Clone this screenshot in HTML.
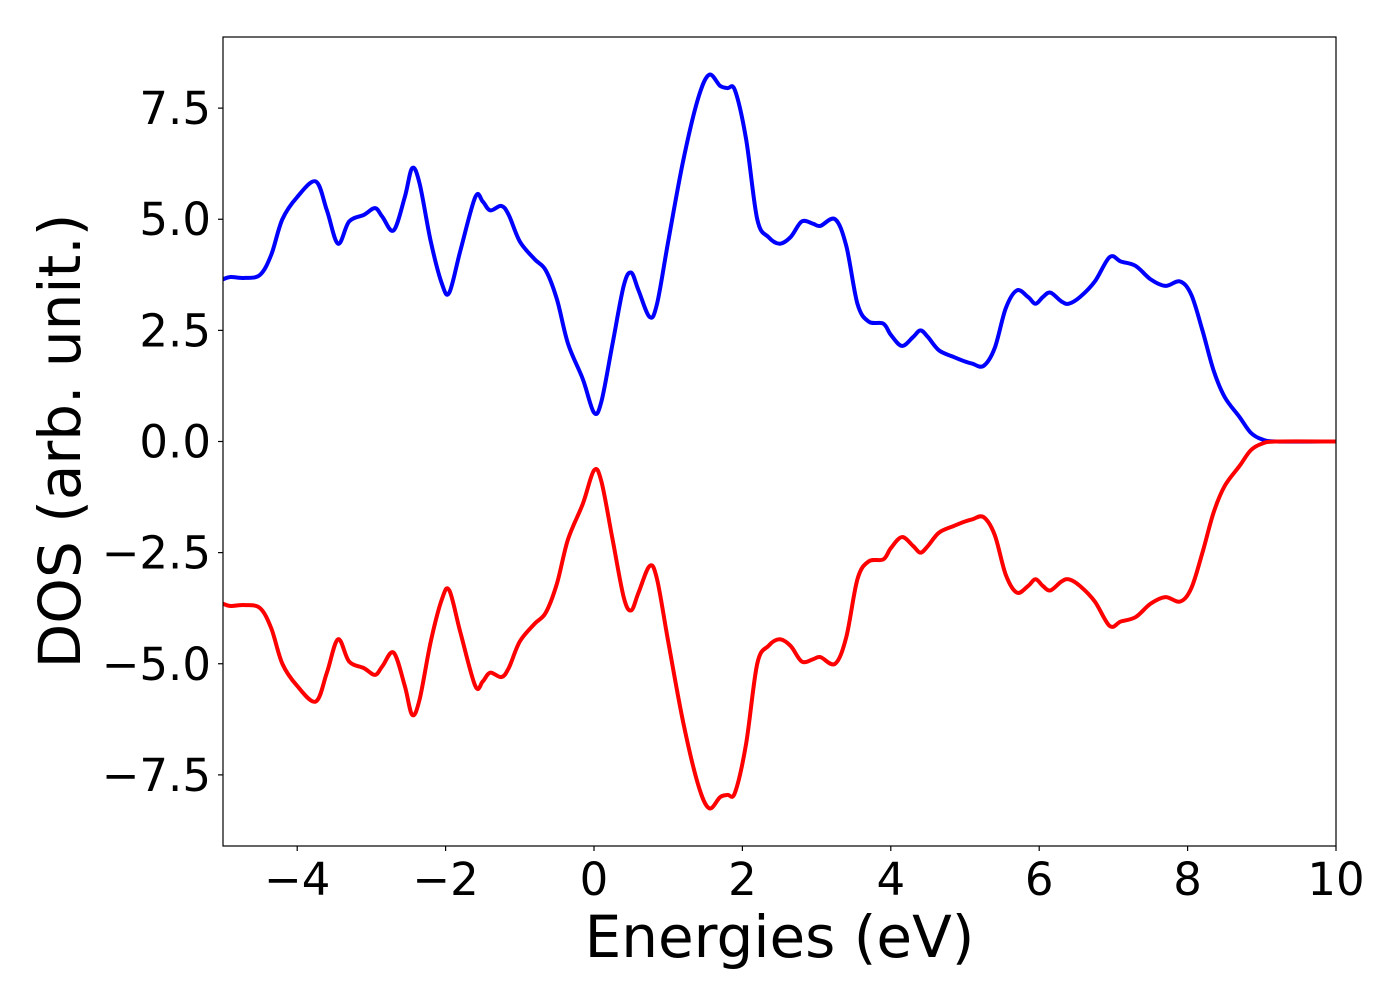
<!DOCTYPE html>
<html><head><meta charset="utf-8"><style>
body{margin:0;background:#fff;}
svg text{font-family:"DejaVu Sans","Liberation Sans",sans-serif;fill:#000;}
</style></head><body>
<svg id="chart" width="1400" height="1000" xmlns="http://www.w3.org/2000/svg">
<g id="plot"></g>
</svg>
<script>
const energies=[-5,-4.9,-4.7,-4.5,-4.35,-4.2,-4.0,-3.75,-3.6,-3.45,-3.3,-3.1,-2.95,-2.85,-2.7,-2.55,-2.45,-2.35,-2.2,-2.05,-1.95,-1.8,-1.6,-1.5,-1.4,-1.25,-1.15,-1.0,-0.8,-0.65,-0.5,-0.35,-0.15,0.0,0.1,0.25,0.4,0.5,0.6,0.75,0.85,1.0,1.2,1.4,1.55,1.7,1.8,1.9,2.05,2.2,2.35,2.5,2.65,2.8,2.95,3.05,3.25,3.4,3.55,3.7,3.9,4.0,4.15,4.3,4.4,4.5,4.65,4.85,5.0,5.1,5.25,5.4,5.55,5.7,5.85,5.95,6.05,6.15,6.3,6.4,6.55,6.75,6.95,7.1,7.3,7.5,7.7,7.9,8.05,8.2,8.35,8.5,8.7,8.85,9.0,9.2,10];
const spinUp=[3.65,3.7,3.68,3.75,4.2,5.0,5.5,5.85,5.2,4.45,4.95,5.1,5.25,5.05,4.75,5.5,6.15,5.8,4.5,3.55,3.35,4.3,5.5,5.4,5.2,5.3,5.1,4.5,4.1,3.85,3.2,2.2,1.4,0.65,0.9,2.2,3.5,3.8,3.4,2.8,3.1,4.5,6.3,7.7,8.25,8.0,7.95,7.9,6.8,5.0,4.6,4.45,4.6,4.95,4.9,4.85,5.0,4.4,3.1,2.7,2.65,2.4,2.15,2.35,2.5,2.35,2.05,1.9,1.8,1.75,1.7,2.1,3.0,3.4,3.25,3.1,3.25,3.35,3.15,3.1,3.25,3.6,4.15,4.05,3.95,3.65,3.5,3.6,3.3,2.5,1.6,1.0,0.55,0.2,0.05,0,0];
const spinDown=spinUp.map(v=>-v);
const xTicks=[-4,-2,0,2,4,6,8,10];
const yTicks=[-7.5,-5,-2.5,0,2.5,5,7.5];
const xTickLabels=['\u22124','\u22122','0','2','4','6','8','10'];
const yTickLabels=['\u22127.5','\u22125.0','\u22122.5','0.0','2.5','5.0','7.5'];
const L=223,R=1336,T=37,B=846;
const xMin=-5,xMax=10,yMin=-9.1,yMax=9.1;
const sx=v=>L+(v-xMin)/(xMax-xMin)*(R-L);
const sy=v=>B-(v-yMin)/(yMax-yMin)*(B-T);
const NS='http://www.w3.org/2000/svg';
const svg=document.getElementById('chart');
function mk(tag,attrs,parent){const e=document.createElementNS(NS,tag);for(const k in attrs)e.setAttribute(k,attrs[k]);(parent||svg).appendChild(e);return e;}
function smoothPath(xs,ys){const p=xs.map((x,i)=>[sx(x),sy(ys[i])]);let d='M'+p[0][0]+','+p[0][1];
for(let i=0;i<p.length-1;i++){const p0=p[Math.max(0,i-1)],p1=p[i],p2=p[i+1],p3=p[Math.min(p.length-1,i+2)];
const c1=[p1[0]+(p2[0]-p0[0])/6,p1[1]+(p2[1]-p0[1])/6],c2=[p2[0]-(p3[0]-p1[0])/6,p2[1]-(p3[1]-p1[1])/6];
d+=' C'+c1[0]+','+c1[1]+' '+c2[0]+','+c2[1]+' '+p2[0]+','+p2[1];}return d;}
const clip=mk('clipPath',{id:'cp'});mk('rect',{x:L,y:T,width:R-L,height:B-T},clip);
const up=mk('path',{d:smoothPath(energies,spinUp),fill:'none',stroke:'#0000ff','stroke-width':4,'clip-path':'url(#cp)'});


const dn=mk('path',{d:smoothPath(energies,spinDown),fill:'none',stroke:'#ff0000','stroke-width':4,'clip-path':'url(#cp)'});


const frame=mk('rect',{x:L,y:T,width:R-L,height:B-T,fill:'none',stroke:'#000','stroke-width':1.2});


xTicks.forEach((v,i)=>{const x=sx(v);
const t=mk('line',{x1:x,x2:x,y1:B,y2:B+5,stroke:'#000','stroke-width':1.2});


const l=mk('text',{x:x,y:B+49,'text-anchor':'middle','font-size':45});l.textContent=xTickLabels[i];

});
yTicks.forEach((v,i)=>{const y=sy(v);
const t=mk('line',{x1:L-5,x2:L,y1:y,y2:y,stroke:'#000','stroke-width':1.2});


const l=mk('text',{x:L-12,y:y+16,'text-anchor':'end','font-size':45});l.textContent=yTickLabels[i];

});
const xl=mk('text',{x:(L+R)/2,y:957,'text-anchor':'middle','font-size':58});xl.textContent='Energies (eV)';


const yl=mk('text',{x:0,y:0,'text-anchor':'middle','font-size':58,transform:'translate(80,441) rotate(-90)'});yl.textContent='DOS (arb. unit.)';


</script>
</body></html>
